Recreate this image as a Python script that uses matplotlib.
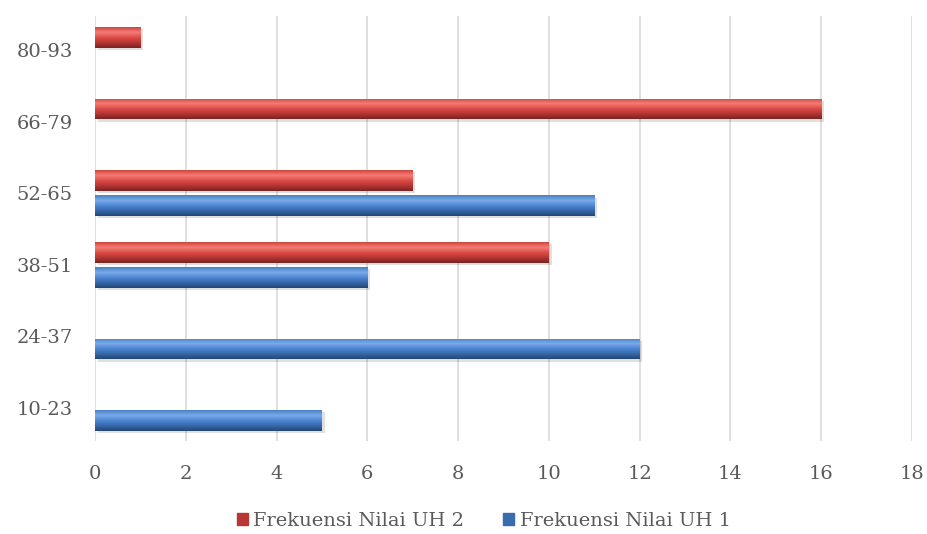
import numpy as np
import matplotlib
matplotlib.use('Agg')
import matplotlib.pyplot as plt
from matplotlib.colors import LinearSegmentedColormap

categories = ['10-23', '24-37', '38-51', '52-65', '66-79', '80-93']
uh1 = [5, 12, 6, 11, 0, 0]
uh2 = [0, 0, 10, 7, 16, 1]
xticks = [0, 2, 4, 6, 8, 10, 12, 14, 16, 18]

plt.rcParams['font.family'] = ['DejaVu Serif']

fig = plt.figure(figsize=(9.27, 5.34), dpi=100)
ax = fig.add_axes([95 / 927, (534 - 441) / 534, (912 - 95) / 927, (441 - 16) / 534])

y = np.arange(len(categories))
h = 0.29
off = 0.175

red_cmap = LinearSegmentedColormap.from_list('r', ['#7a2422', '#b33633', '#de4b45', '#f47d77', '#d04540'])
blue_cmap = LinearSegmentedColormap.from_list('b', ['#234774', '#3868aa', '#4c86d2', '#7aabea', '#4a80c6'])
grad = np.linspace(0, 1, 64).reshape(-1, 1)


def shaded_bars(vals, pos, base, cmap):
    bars = ax.barh(pos, vals, height=h, color=base, edgecolor='none', zorder=3)
    for b in bars:
        if b.get_width() <= 0:
            continue
        x0, y0 = b.get_x(), b.get_y()
        # soft drop shadow
        ax.barh(y0 + h / 2 - 0.03, b.get_width(), left=x0 + 0.06, height=h,
                color='#000000', alpha=0.12, zorder=2, edgecolor='none')
        im = ax.imshow(grad, cmap=cmap, aspect='auto', zorder=4,
                       extent=[x0, x0 + b.get_width(), y0, y0 + h], origin='lower')
        im.set_clip_path(b)
    return bars


shaded_bars(uh2, y + off, '#c0403c', red_cmap)
shaded_bars(uh1, y - off, '#4a80c6', blue_cmap)

ax.set_xlim(0, 18)
ax.set_ylim(-0.46, 5.475)
ax.set_xticks(xticks)
ax.set_yticks(y)
ax.set_yticklabels(categories)
ax.xaxis.grid(True, color='#d9d9d9', linewidth=1.2, zorder=0)
ax.set_axisbelow(True)
for s in ax.spines.values():
    s.set_visible(False)
ax.tick_params(axis='both', length=0, labelsize=14, labelcolor='#595959')
ax.tick_params(axis='x', pad=17)
ax.tick_params(axis='y', pad=16)

handles = [plt.Rectangle((0, 0), 1, 1, color='#b83633'),
           plt.Rectangle((0, 0), 1, 1, color='#3a6db0')]
fig.legend(handles, ['Frekuensi Nilai UH 2', 'Frekuensi Nilai UH 1'],
           loc='center', bbox_to_anchor=(0.522, 1 - 521 / 534), ncol=2, frameon=False,
           fontsize=14, labelcolor='#595959', handlelength=0.55, handleheight=0.55,
           handletextpad=0.3, columnspacing=2.0)

fig.savefig('out.png', dpi=100)
